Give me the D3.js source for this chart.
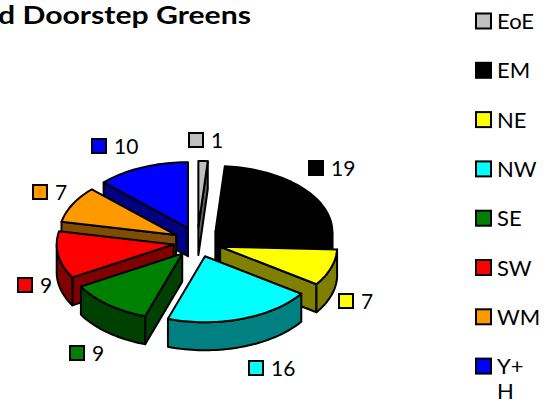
<!DOCTYPE html>
<html>
<head>
<meta charset="utf-8">
<script src="https://cdnjs.cloudflare.com/ajax/libs/d3/7.8.5/d3.min.js"></script>
<style>
html,body{margin:0;padding:0;background:#fff;overflow:hidden}
svg{display:block}
text{font-family:Lato,"Open Sans",sans-serif;fill:#000}
</style>
</head>
<body>
<script>
const categories = ["EoE","EM","NE","NW","SE","SW","WM","Y+H"];
const values = [1,19,7,16,9,9,7,10];
const topColors = ["#C0C0C0","#000000","#FFFF00","#00FFFF","#008000","#FF0000","#FF9900","#0000FF"];
const sideColors = ["#606060","#000000","#808000","#008080","#004000","#800000","#804C00","#000080"];
const titleText = "d Doorstep Greens";

// Layout only
const W = 556, H = 403;
const centre = {x:197.4, y:242}, radius = {x:117, y:66};
const explode = {x:24, y:15}, depth = 28;
const labelAnchors = [[189,133],[309,161],[339,294],[249,361],[70,346],[18,278],[33,185],[92,139]];
const legendTop = 21, legendStep = 49.3;

const svg = d3.select("body").append("svg").attr("width",W).attr("height",H);

svg.append("text").attr("x",-2).attr("y",24)
  .attr("textLength",253).attr("lengthAdjust","spacingAndGlyphs")
  .attr("font-size",25).attr("font-weight",700).text(titleText);

const sx = d3.scaleLinear().domain([-1,1]).range([-radius.x,radius.x]);
const sy = d3.scaleLinear().domain([-1,1]).range([-radius.y,radius.y]);
const pie = d3.pie().sort(null).value(d=>d)(values);
const line = d3.line().x(d=>d[0]).y(d=>d[1]);

function arcPts(o,a0,a1,dz){
  const n = Math.max(2,Math.ceil(Math.abs(a1-a0)/0.03));
  return d3.range(n+1).map(i=>{
    const a = a0+(a1-a0)*i/n;
    return [o.x+sx(Math.sin(a)), o.y+sy(-Math.cos(a))+dz];
  });
}

const slices = pie.map((p,i)=>{
  const mid = (p.startAngle+p.endAngle)/2;
  const o = {x:centre.x+explode.x*Math.sin(mid), y:centre.y-explode.y*Math.cos(mid)};
  return {i,a0:p.startAngle,a1:p.endAngle,mid,o};
}).sort((a,b)=>Math.cos(b.mid)-Math.cos(a.mid));

const g = svg.append("g").attr("stroke","#000").attr("stroke-width",2).attr("stroke-linejoin","round");

function radialWall(s,a){
  const e = arcPts(s.o,a,a,0)[0];
  g.append("path").attr("fill",sideColors[s.i])
    .attr("d",line([[s.o.x,s.o.y],e,[e[0],e[1]+depth],[s.o.x,s.o.y+depth]])+"Z");
}

slices.forEach(s=>{
  if(Math.sin(s.a0)<-1e-6) radialWall(s,s.a0);
  if(Math.sin(s.a1)>1e-6) radialWall(s,s.a1);
  const f0 = Math.max(s.a0,Math.PI/2), f1 = Math.min(s.a1,Math.PI*1.5);
  if(f1>f0){
    const t = arcPts(s.o,f0,f1,0), b = arcPts(s.o,f1,f0,depth);
    g.append("path").attr("fill",sideColors[s.i]).attr("d",line(t.concat(b))+"Z");
  }
  g.append("path").attr("fill",topColors[s.i])
    .attr("d",line([[s.o.x,s.o.y]].concat(arcPts(s.o,s.a0,s.a1,0)))+"Z");
});

// Data labels
values.forEach((v,i)=>{
  const [x,y] = labelAnchors[i];
  svg.append("rect").attr("x",x).attr("y",y).attr("width",14).attr("height",14)
    .attr("fill",topColors[i]).attr("stroke","#000").attr("stroke-width",2);
  svg.append("text").attr("x",x+22).attr("y",y+14.5).attr("font-size",21).text(v);
});

// Legend
categories.forEach((c,i)=>{
  const yc = legendTop+legendStep*i;
  svg.append("rect").attr("x",476).attr("y",yc-7.5).attr("width",15).attr("height",15)
    .attr("fill",topColors[i]).attr("stroke","#000").attr("stroke-width",2);
  const lines = c==="Y+H" ? ["Y+","H"] : [c];
  lines.forEach((t,j)=>{
    svg.append("text").attr("x",497).attr("y",yc+8+j*25).attr("font-size",22).text(t);
  });
});
</script>
</body>
</html>
